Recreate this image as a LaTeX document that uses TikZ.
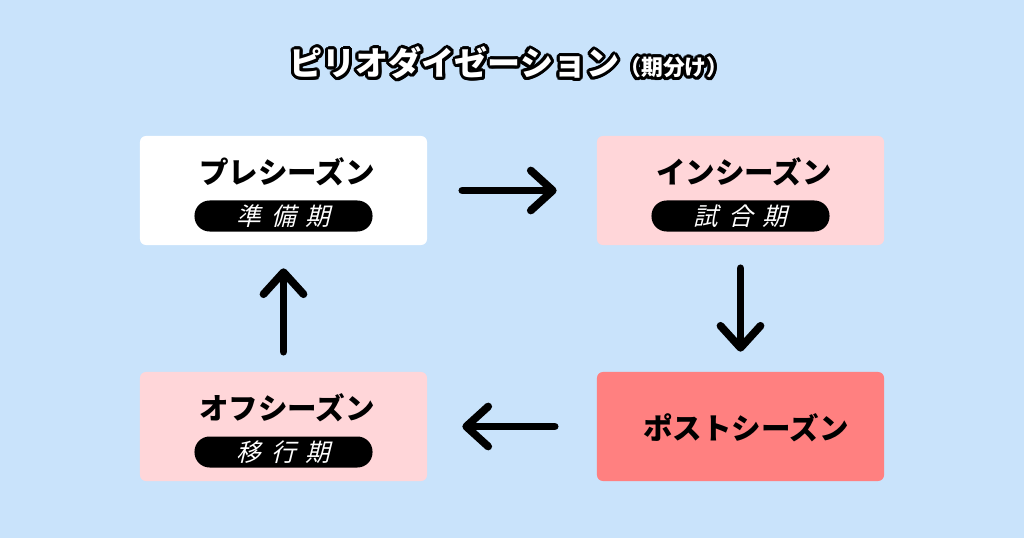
\documentclass[tikz,border=0pt]{standalone}
\usepackage{fontspec}
\setmainfont{Noto Sans CJK JP}
\newfontfamily\pillfont{Noto Sans CJK JP}[FakeSlant=0.25,LetterSpace=40]
\usetikzlibrary{positioning,arrows.meta}
\definecolor{bgblue}{RGB}{201,227,251}
\definecolor{softpink}{RGB}{255,214,217}
\definecolor{postred}{RGB}{255,128,128}
\tikzset{
	season/.style={rounded corners=0.15cm, minimum width=7.175cm, minimum height=2.725cm, inner sep=0pt},
	seasonname/.style={font=\bfseries\fontsize{21}{21}\selectfont, inner sep=0pt},
	pill/.style={fill=black, rounded corners=0.38cm, minimum width=4.45cm, minimum height=0.775cm, inner sep=0pt, text=white, font=\pillfont\fontsize{17.5}{17.5}\selectfont},
	cyclearrow/.style={line width=5.5pt, line cap=round, -{Straight Barb[round,length=0.55cm,width=1cm]}},
	titletext/.style={font=\bfseries\fontsize{23.5}{24}\selectfont, inner sep=0pt}
}
\newcommand{\titlestring}{ピリオダイゼーション{\fontsize{15.5}{15.5}\selectfont （期分け）}}
\begin{document}
\begin{tikzpicture}[x=0.025cm, y=-0.025cm]
		\fill[bgblue] (0,0) rectangle (1024,538);
		\useasboundingbox (0,0) rectangle (1024,538);
		
		% title with outline
		\foreach \a in {0,20,...,340}
			\node[titletext, text=black] at ([shift={(\a:3)}]509,63) {\titlestring};
		\node[titletext, text=white] (title) at (509,63) {\titlestring};
		
		% boxes
		\node[season, fill=white](pre) at (283.5,190.5) {};
		\node[season, fill=softpink](in) at (740.5,190.5) {};
		\node[season, fill=softpink](off) at (283.5,426.5) {};
		\node[season, fill=postred](post) at (740.5,426.5) {};
		
		% labels
		\node[seasonname](prename) at (287,172) {プレシーズン};
		\node[pill](prepill) at (283.5,216) {準備期};
		\node[seasonname](inname) at (744,172) {インシーズン};
		\node[pill](inpill) at (740.5,216) {試合期};
		\node[seasonname](offname) at (287,408) {オフシーズン};
		\node[pill](offpill) at (283.5,452) {移行期};
		\node[seasonname](postname) at (746,428) {ポストシーズン};
		
		% cycle
		\draw[cyclearrow, shorten <=0.875cm, shorten >=1cm] (pre.east) -- (in.west);
		\draw[cyclearrow, shorten <=0.575cm, shorten >=0.5cm] (in.south) -- (post.north);
		\draw[cyclearrow, shorten <=1.05cm, shorten >=0.875cm] (post.west) -- (off.east);
		\draw[cyclearrow, shorten <=0.5cm, shorten >=0.575cm] (off.north) -- (pre.south);
\end{tikzpicture}
\end{document}
